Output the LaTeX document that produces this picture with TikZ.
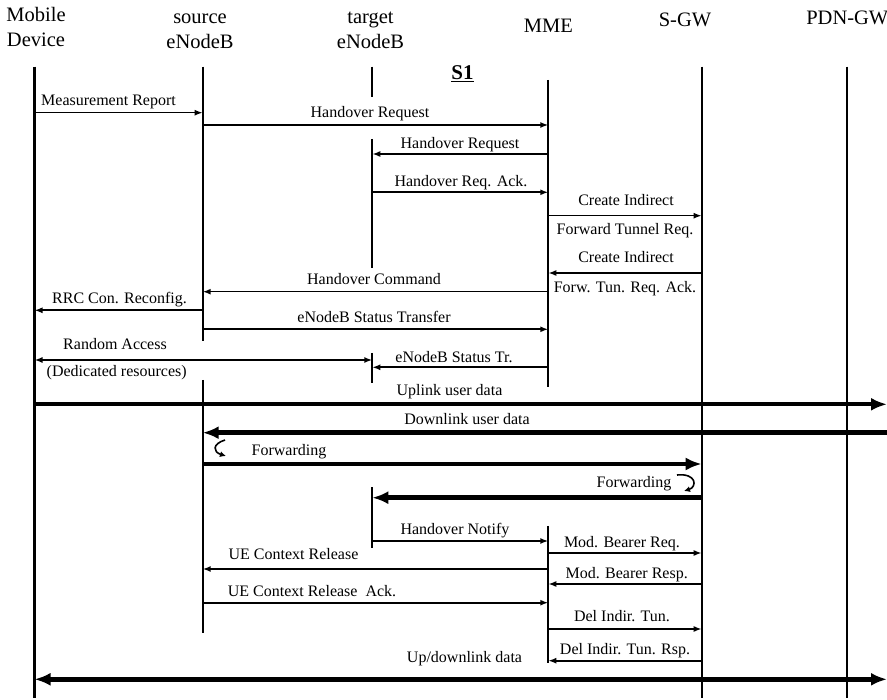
\documentclass[tikz,border=0pt]{standalone}
\usepackage{fontspec}
\setmainfont{Liberation Serif}
\usetikzlibrary{arrows.meta}
\begin{document}
\begin{tikzpicture}[x=1pt,y=-1pt,line cap=butt,>=latex,
  life/.style={line width=2.2pt},
  msg/.style={line width=1.6pt,-{Latex[length=8pt,width=6pt]}},
  twoway/.style={line width=1.6pt,{Latex[length=8pt,width=6pt]}-{Latex[length=8pt,width=6pt]}},
  data/.style={line width=4.4pt,-{Latex[length=16pt,width=13pt]}},
  bothdata/.style={line width=4.4pt,{Latex[length=16pt,width=13pt]}-{Latex[length=16pt,width=13pt]}},
  curl/.style={line width=1.6pt,-{Latex[length=6pt,width=6pt]}},
  lbl/.style={font=\fontsize{16}{18}\selectfont,inner sep=0pt,anchor=base},
  hdr/.style={font=\fontsize{20.5}{25}\selectfont,align=center,inner sep=0pt,anchor=base}]
  \useasboundingbox (0,0) rectangle (887,700);
  \coordinate (ue) at (34.5,0);
  \coordinate (src) at (202.7,0);
  \coordinate (tgt) at (372.3,0);
  \coordinate (mme) at (548.3,0);
  \coordinate (sgw) at (701.7,0);
  \coordinate (pgw) at (847.3,0);
  \coordinate (rim) at (887,0);
  \node[hdr] (hUe) at (36,46.7) {Mobile\\Device};
  \node[hdr] (hSrc) at (200,48.3) {source\\eNodeB};
  \node[hdr] (hTgt) at (370.5,48.3) {target\\eNodeB};
  \node[hdr] (hMme) at (548.3,32.7) {MME};
  \node[hdr] (hSgw) at (685,26.7) {S-GW};
  \node[hdr] (hPgw) at (847.3,25) {PDN-GW};
  \node[hdr,font=\fontsize{21}{25}\selectfont\bfseries] (hS1) at (462.5,80) {\underline{S1}};
  \foreach \l/\a/\b in {ue/66.7/698,src/66.7/341,src/380/632.7,tgt/66.7/96.7,tgt/139/268.3,
    tgt/353/383,tgt/487.3/548.3,mme/80/386.7,mme/526/663.3,sgw/66.7/698,pgw/66.7/698}
    \draw[life] (\l |- 0,\a) -- (\l |- 0,\b);
  \foreach \y/\a/\b in {112.7/ue/src,125/src/mme,154/mme/tgt,192.3/tgt/mme,215.7/mme/sgw,
    273/sgw/mme,291.7/mme/src,310.3/src/ue,329.3/src/mme,367.3/mme/tgt,541/tgt/mme,
    553/mme/sgw,569/mme/src,584/sgw/mme,602.7/src/mme,629/mme/sgw,660.7/sgw/mme}
    \draw[msg] (\a |- 0,\y) -- (\b |- 0,\y);
  \draw[twoway] (ue |- 0,360) -- (tgt |- 0,360);
  \draw[data] (ue |- 0,404.3) -- (rim |- 0,404.3);
  \draw[data] (rim |- 0,432.7) -- (src |- 0,432.7);
  \draw[data] (src |- 0,464) -- (sgw |- 0,464);
  \draw[data] (sgw |- 0,497.7) -- (tgt |- 0,497.7);
  \draw[bothdata] (ue |- 0,679.3) -- (rim |- 0,679.3);
  \draw[curl] (225,440) .. controls (212,444) and (213,452) .. (226,456);
  \draw[curl] (677,475) .. controls (697,473) and (697,487) .. (684,491);
  \foreach \x/\y/\t [count=\i] in {108.5/106/Measurement Report,370/117.3/Handover Request,
    460/148.3/Handover Request,461/186.7/Handover Req. Ack.,626/206/Create Indirect,
    625/235/Forward Tunnel Req.,626/262.7/Create Indirect,625/292.3/Forw. Tun. Req. Ack.,
    374/284.3/Handover Command,119.5/303.3/RRC Con. Reconfig.,374/322.7/eNodeB Status Transfer,
    115/350/Random Access,116.7/376.7/(Dedicated resources),454/362.7/eNodeB Status Tr.,
    449.5/396/Uplink user data,467/424.3/Downlink user data,289/456/Forwarding,
    634/487.3/Forwarding,455/535/Handover Notify,622/547.3/Mod. Bearer Req.,
    293.5/560/UE Context Release,626.7/578.3/Mod. Bearer Resp.,312/596/UE Context Release\ \ Ack.,
    622/621.7/Del Indir. Tun.,625/654/Del Indir. Tun. Rsp.,464.5/662.7/{Up/downlink data}}
    \node[lbl] (lab\i) at (\x,\y) {\t};
\end{tikzpicture}
\end{document}
